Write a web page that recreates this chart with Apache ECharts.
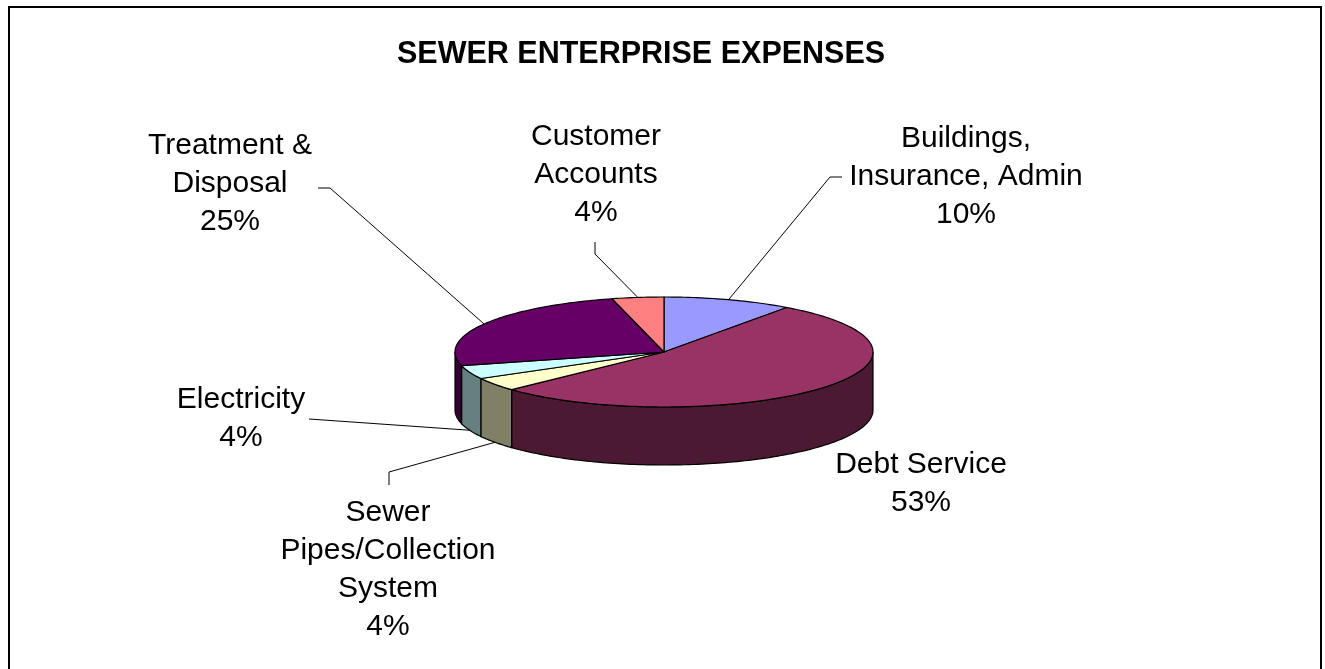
<!DOCTYPE html>
<html>
<head>
    <meta charset="utf-8">
    <style type="text/css">
        *, html, body {
            margin: 0;
            padding: 0;
        }
        html, body, #container {
            width: 100%;
            height: 100%;
            background: #fff;
        }
    </style>
    <script type="text/javascript" src="https://cdn.jsdelivr.net/npm/echarts@6/dist/echarts.min.js"></script>
</head>
<body>
<div id="container"></div>
<script type="text/javascript">
    // data
    let categories = ['Buildings,\nInsurance, Admin', 'Debt Service', 'Sewer\nPipes/Collection\nSystem', 'Electricity', 'Treatment &\nDisposal', 'Customer\nAccounts'];
    let values = [10, 53, 4, 4, 25, 4];
    let faceColors = ['#9999FF', '#993366', '#FFFFCC', '#CCFFFF', '#660066', '#FF8080'];
    let sideColors = ['#4C4C80', '#4C1933', '#808066', '#668080', '#330033', '#804040'];

    // layout of the tilted pie and its labels
    let pie = {cx: 664, cy: 352, rx: 209, ry: 55, depth: 58};
    let labelPos = [[966, 177], [921, 484], [388, 570], [241, 419], [230, 184], [596, 175]];
    let leaderPts = [[[842, 177], [830, 177]], null, [[389, 485], [389, 472]], [[309, 419]], [[318, 188], [330, 188]], [[595, 242], [595, 254]]];
    let font = '"Liberation Sans", Arial, sans-serif';

    let total = values.reduce(function (s, v) { return s + v; }, 0);
    let starts = [];
    let acc = 0;
    values.forEach(function (v) { starts.push(acc); acc += v; });

    function pt(t, dy) {
        return [pie.cx + pie.rx * Math.sin(t), pie.cy - pie.ry * Math.cos(t) + (dy || 0)];
    }

    function arc(a, b, dy) {
        let n = Math.max(2, Math.ceil(Math.abs(b - a) / 0.02));
        let out = [];
        for (let k = 0; k <= n; k++) {
            out.push(pt(a + (b - a) * k / n, dy));
        }
        return out;
    }

    function renderItem(params, api) {
        let i = params.dataIndex;
        let v = api.value(0);
        let a0 = starts[i] / total * Math.PI * 2;
        let a1 = a0 + v / total * Math.PI * 2;
        let children = [];

        // visible side wall (front half only)
        let lo = Math.max(a0, Math.PI / 2), hi = Math.min(a1, Math.PI * 1.5);
        if (hi > lo) {
            let side = arc(lo, hi, 0).concat(arc(hi, lo, pie.depth));
            children.push({
                type: 'polygon',
                shape: {points: side},
                style: {fill: sideColors[i], stroke: '#000', lineWidth: 1.2},
                z2: 1
            });
        }

        // top face
        let top = [[pie.cx, pie.cy]].concat(arc(a0, a1, 0));
        children.push({
            type: 'polygon',
            shape: {points: top},
            style: {fill: faceColors[i], stroke: '#000', lineWidth: 1.2, lineJoin: 'round'},
            z2: 2
        });

        // leader line
        if (leaderPts[i]) {
            let mid = (a0 + a1) / 2;
            let front = mid > Math.PI / 2 && mid < Math.PI * 1.5;
            let edge = pt(mid, front ? pie.depth : 0);
            children.push({
                type: 'polyline',
                shape: {points: leaderPts[i].concat([edge])},
                style: {stroke: '#000', lineWidth: 1, fill: null},
                z2: 3
            });
        }

        // label
        children.push({
            type: 'text',
            style: {
                text: categories[i] + '\n' + Math.round(v / total * 100) + '%',
                x: labelPos[i][0],
                y: labelPos[i][1],
                align: 'center',
                verticalAlign: 'middle',
                fontSize: 30,
                fontFamily: font,
                lineHeight: 38,
                fill: '#000'
            },
            z2: 4
        });

        return {type: 'group', children: children};
    }

    let myChart = echarts.init(document.getElementById('container'));
    myChart.setOption({
        backgroundColor: '#fff',
        animation: false,
        title: {
            text: 'SEWER ENTERPRISE EXPENSES',
            left: 392,
            top: 34,
            textStyle: {fontSize: 30.5, fontWeight: 'bold', fontFamily: font, color: '#000'}
        },
        graphic: [{
            type: 'rect',
            shape: {x: 9, y: 7, width: 1312, height: 720},
            style: {fill: null, stroke: '#000', lineWidth: 2},
            silent: true
        }],
        series: [{
            type: 'custom',
            coordinateSystem: 'none',
            renderItem: renderItem,
            data: values
        }]
    });
</script>
</body>
</html>
